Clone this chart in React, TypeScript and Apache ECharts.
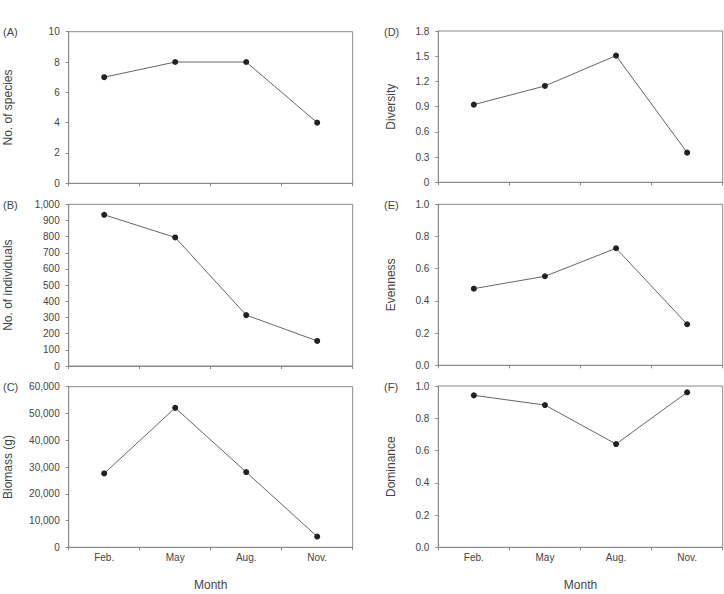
import React, { useEffect, useRef } from "react";
import * as echarts from "echarts";

const months = ["Feb.", "May", "Aug.", "Nov."];
const species = [7, 8, 8, 4];
const individuals = [935, 795, 315, 155];
const biomass = [27600, 52100, 28100, 4000];
const diversity = [0.924, 1.146, 1.507, 0.353];
const evenness = [0.476, 0.553, 0.727, 0.255];
const dominance = [0.942, 0.882, 0.64, 0.961];

const panelLabels = ["(A)", "(B)", "(C)", "(D)", "(E)", "(F)"];
const yNames = ["No. of species", "No. of individuals", "Biomass (g)", "Diversity", "Evenness", "Dominance"];
const xName = "Month";

const TEXT = "#444";
const FONT = "Liberation Sans, Arial, sans-serif";

const commas = (v: number) => String(v).replace(/\B(?=(\d{3})+(?!\d))/g, ",");

export default function App() {
  const ref = useRef<HTMLDivElement>(null);
  useEffect(() => {
    if (!ref.current) return;
    const chart = echarts.init(ref.current, null, { renderer: "svg" });
    const grids = [
      { left: 68.7, top: 31.7, width: 284, height: 151.6 },
      { left: 68.7, top: 204.3, width: 284, height: 161.7 },
      { left: 68.7, top: 386.7, width: 284, height: 160.6 },
      { left: 438.3, top: 31, width: 284.4, height: 151.3 },
      { left: 438.3, top: 204.3, width: 284.4, height: 161 },
      { left: 438.3, top: 386, width: 284.4, height: 161.3 },
    ];
    const yCfg = [
      { max: 10, interval: 2, fmt: (v: number) => String(v), gap: 55 },
      { max: 1000, interval: 100, fmt: commas, gap: 55 },
      { max: 60000, interval: 10000, fmt: commas, gap: 55 },
      { max: 1.8, interval: 0.3, fmt: (v: number) => (v === 0 ? "0" : v.toFixed(1)), gap: 41 },
      { max: 1.0, interval: 0.2, fmt: (v: number) => v.toFixed(1), gap: 41 },
      { max: 1.0, interval: 0.2, fmt: (v: number) => v.toFixed(1), gap: 41 },
    ];
    const data = [species, individuals, biomass, diversity, evenness, dominance];
    const isBottom = [false, false, true, false, false, true];

    const option: any = {
      animation: false,
      backgroundColor: "#fff",
      textStyle: { fontFamily: FONT },
      grid: grids.map((g) => ({ ...g, show: true, borderColor: "#888", borderWidth: 1, backgroundColor: "transparent" })),
      xAxis: grids.map((_, i) => ({
        type: "category",
        gridIndex: i,
        data: months,
        boundaryGap: true,
        axisLine: { lineStyle: { color: "#888", width: 1 } },
        axisTick: { show: true, inside: false, length: 3, lineStyle: { color: "#888" } },
        axisLabel: { show: isBottom[i], color: TEXT, fontSize: 10, margin: 5, fontFamily: FONT },
        name: isBottom[i] ? xName : "",
        nameLocation: "middle",
        nameGap: 32,
        nameTextStyle: { color: TEXT, fontSize: 12, fontFamily: FONT },
        splitLine: { show: false },
      })),
      yAxis: grids.map((_, i) => ({
        type: "value",
        gridIndex: i,
        min: 0,
        max: yCfg[i].max,
        interval: yCfg[i].interval,
        axisLine: { show: true, lineStyle: { color: "#888", width: 1 } },
        axisTick: { show: true, inside: false, length: 3, lineStyle: { color: "#888" } },
        axisLabel: { color: TEXT, fontSize: 10, margin: 9, fontFamily: FONT, formatter: yCfg[i].fmt },
        splitLine: { show: false },
        name: yNames[i],
        nameLocation: "middle",
        nameRotate: 90,
        nameGap: yCfg[i].gap,
        nameTextStyle: { color: TEXT, fontSize: 12, fontFamily: FONT },
      })),
      series: data.map((d, i) => ({
        type: "line",
        xAxisIndex: i,
        yAxisIndex: i,
        data: d,
        symbol: "circle",
        symbolSize: 6,
        itemStyle: { color: "#222" },
        lineStyle: { color: "#666", width: 1 },
      })),
      graphic: panelLabels.map((t, i) => ({
        type: "text",
        left: i < 3 ? 3 : 384,
        top: grids[i].top - 5,
        style: { text: t, fill: TEXT, fontSize: 11, fontFamily: FONT },
      })),
    };
    chart.setOption(option);
    return () => chart.dispose();
  }, []);
  return <div ref={ref} style={{ position: "fixed", left: 0, top: 0, width: 724, height: 594 }} />;
}
